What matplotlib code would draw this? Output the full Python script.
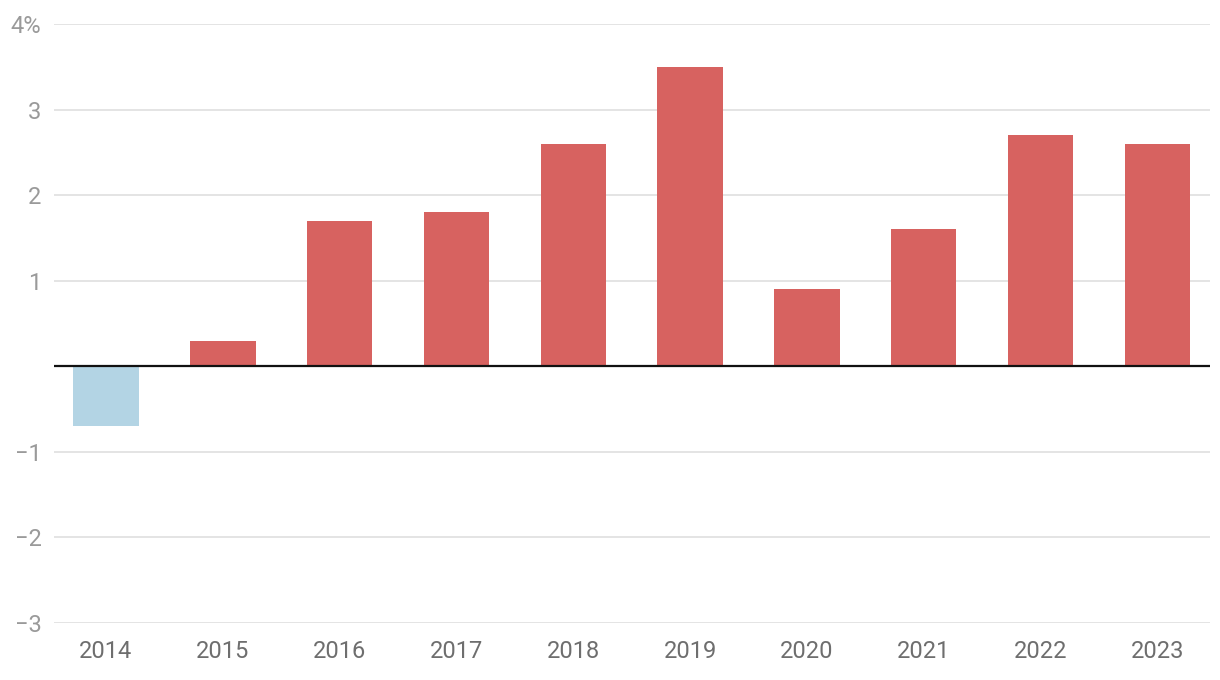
import matplotlib
matplotlib.use('Agg')
import matplotlib.pyplot as plt

years = ['2014', '2015', '2016', '2017', '2018', '2019', '2020', '2021', '2022', '2023']
values = [-0.7, 0.3, 1.7, 1.8, 2.6, 3.5, 0.9, 1.6, 2.7, 2.6]
y_ticks = [-3, -2, -1, 0, 1, 2, 3, 4]
y_labels = ['\u22123', '\u22122', '\u22121', '', '1', '2', '3', '4%']

RED = '#d76260'
BLUE = '#b3d4e4'

plt.rcParams['font.family'] = ['Roboto', 'DejaVu Sans']

fig = plt.figure(figsize=(12.2, 6.8), dpi=100)
ax = fig.add_axes([54 / 1220, 57 / 680, (1210 - 54) / 1220, (623 - 24) / 680])

x = list(range(len(years)))
colors = [RED if v >= 0 else BLUE for v in values]
ax.bar(x, values, width=0.56, color=colors, zorder=2)

ax.set_xlim(-0.445, len(years) - 1 + 0.45)
ax.set_ylim(-3, 4)
ax.set_yticks(y_ticks)
ax.set_yticklabels(y_labels)
ax.set_xticks(x)
ax.set_xticklabels(years)

ax.grid(axis='y', color='#e2e2e2', linewidth=1.3, zorder=0)
ax.axhline(0, color='#111111', linewidth=1.6, zorder=3)

for s in ax.spines.values():
    s.set_visible(False)
ax.tick_params(axis='y', length=0, pad=9, labelsize=17, labelcolor='#9a9a9a')
ax.tick_params(axis='x', length=0, pad=12, labelsize=17, labelcolor='#6e6e6e')

fig.savefig('out.png', dpi=100, facecolor='white')
